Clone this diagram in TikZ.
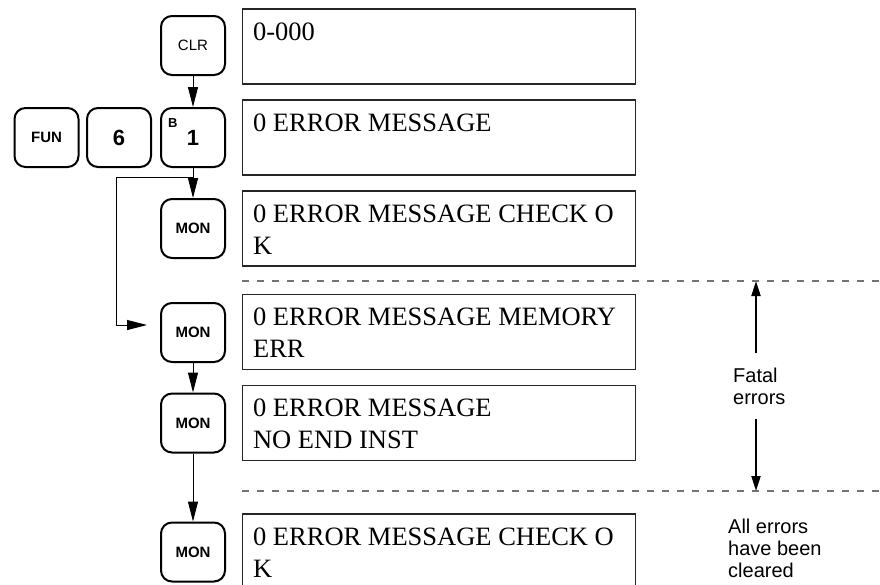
\documentclass[tikz,border=0pt]{standalone}
\usepackage{fontspec}
\setmainfont{Liberation Serif}
\setsansfont{Liberation Sans}
\usetikzlibrary{arrows.meta,calc}
\begin{document}
\begin{tikzpicture}[x=1pt,y=-1pt,
  key/.style={draw, line width=2pt, rounded corners=11pt, minimum width=64pt, minimum height=59pt, inner sep=0pt},
  keytxt/.style={font=\sffamily\bfseries\fontsize{15}{15}\selectfont},
  keyreg/.style={font=\sffamily\fontsize{15}{15}\selectfont},
  keybig/.style={font=\sffamily\bfseries\fontsize{22}{22}\selectfont},
  dbox/.style={draw=black!85, line width=1.2pt, minimum width=393pt, minimum height=75pt, inner sep=0pt},
  dline/.style={font=\fontsize{26.5}{32}\selectfont, inner sep=0pt, anchor=base west},
  conn/.style={line width=1pt, -{Triangle[length=20pt,width=10pt]}},
  sep/.style={draw=black!55, line width=1.3pt, dash pattern=on 7pt off 8pt},
  bigarrow/.style={line width=2pt, -{Triangle[length=15pt,width=9pt]}},
  lbl/.style={font=\sffamily\fontsize{20}{22}\selectfont, inner sep=0pt, align=left, anchor=north west}
]
\useasboundingbox (0,0) rectangle (880,584);
\clip (0,0) rectangle (880,584);

% keys
\node[key, keyreg] (clr) at (193,45.5) {CLR};
\node[key, keytxt] (fun) at (46.5,137.5) {FUN};
\node[key, keybig] (six) at (119,137.5) {6};
\node[key, keybig] (b1) at (193,137.5) {1};
\node[font=\sffamily\bfseries\fontsize{13}{13}\selectfont, inner sep=0pt, anchor=base west] (bsup) at (168,127) {B};
\node[key, keytxt] (m1) at (193,228.5) {MON};
\node[key, keytxt] (m2) at (193,332.5) {MON};
\node[key, keytxt] (m3) at (193,423) {MON};
\node[key, keytxt] (m4) at (193,552) {MON};

% display boxes
\node[dbox] (d1) at (439,46.5) {};
\node[dbox] (d2) at (439,137.5) {};
\node[dbox] (d3) at (439,228.5) {};
\node[dbox] (d4) at (439,332) {};
\node[dbox] (d5) at (439,423) {};
\node[dbox] (d6) at (439,551.5) {};

\node[dline] (t1) at ($(d1.north west)+(11,32)$) {0-000};
\node[dline] (t2) at ($(d2.north west)+(11,32)$) {0 ERROR MESSAGE};
\node[dline] (t3a) at ($(d3.north west)+(11,32)$) {0 ERROR MESSAGE CHECK O};
\node[dline] (t3b) at ($(d3.north west)+(11,64)$) {K};
\node[dline] (t4a) at ($(d4.north west)+(11,32)$) {0 ERROR MESSAGE MEMORY};
\node[dline] (t4b) at ($(d4.north west)+(11,64)$) {ERR};
\node[dline] (t5a) at ($(d5.north west)+(11,32)$) {0 ERROR MESSAGE};
\node[dline] (t5b) at ($(d5.north west)+(11,64)$) {NO END INST};
\node[dline] (t6a) at ($(d6.north west)+(11,32)$) {0 ERROR MESSAGE CHECK O};
\node[dline] (t6b) at ($(d6.north west)+(11,64)$) {K};

% connectors
\draw[conn] (clr) -- (b1);
\draw[conn] (b1) -- (m1);
\draw[conn] (m2) -- (m3);
\draw[conn] (m3) -- (m4);
\coordinate (j) at (193,177);
\coordinate (jl) at (116,177);
\coordinate (jb) at (116,325);
\coordinate (jt) at (147,325);
\draw[conn] (j) -- (jl) -- (jb) -- (jt);

% separators
\coordinate (s1a) at (242,281);
\coordinate (s1b) at (880,281);
\coordinate (s2a) at (242,491);
\coordinate (s2b) at (880,491);
\draw[sep] (s1a) -- (s1b);
\draw[sep] (s2a) -- (s2b);

% fatal errors range
\coordinate (ua) at (756,353);
\coordinate (ub) at (756,281);
\coordinate (da) at (756,419);
\coordinate (db) at (756,491);
\draw[bigarrow] (ua) -- (ub);
\draw[bigarrow] (da) -- (db);
\node[lbl] (fatal) at (733,368) {Fatal\\errors};
\node[lbl] (cleared) at (728,519) {All errors\\have been\\cleared};
\end{tikzpicture}
\end{document}
